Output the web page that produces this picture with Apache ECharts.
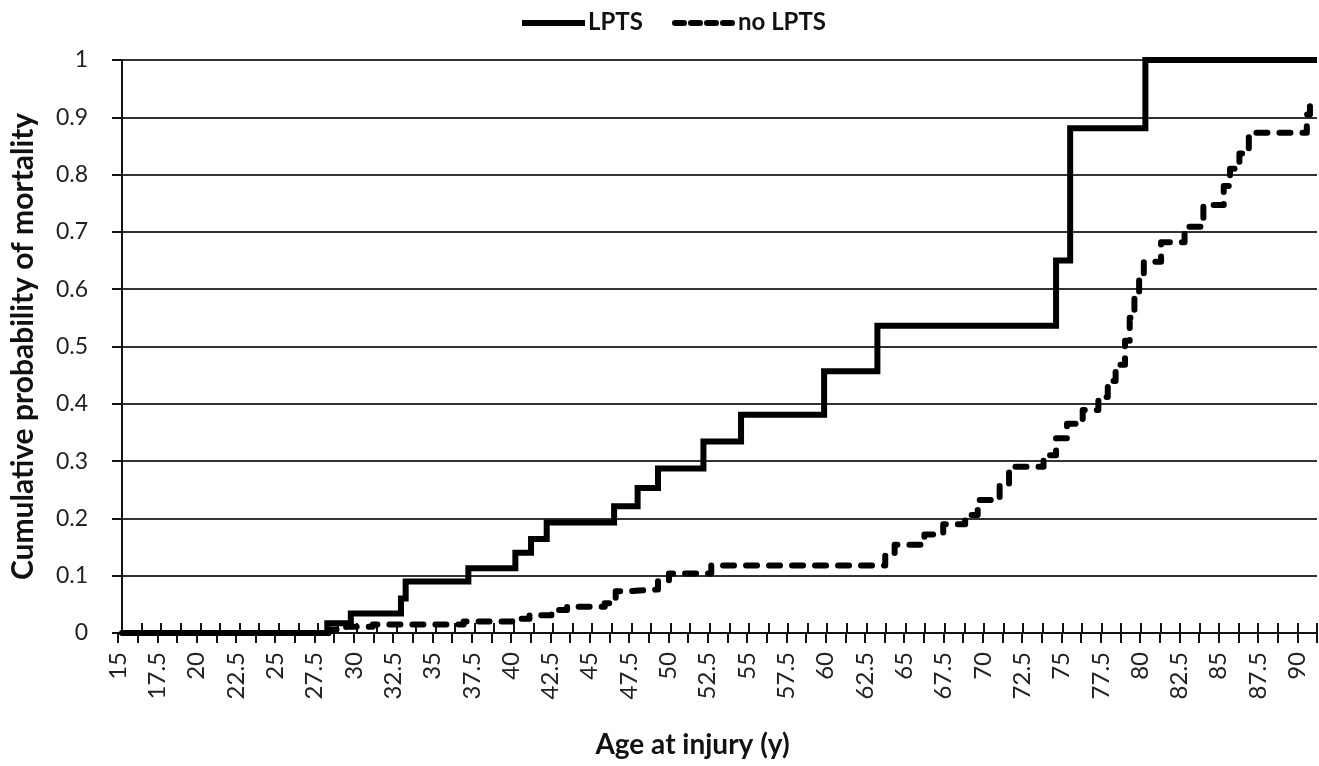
<!DOCTYPE html>
<html>
<head>
<meta charset="utf-8">
<script src="https://cdn.jsdelivr.net/npm/echarts@6/dist/echarts.min.js"></script>
<style>
html,body{margin:0;padding:0;background:#fff;}
#chart{width:1319px;height:766px;}
</style>
</head>
<body>
<div id="chart"></div>
<script>
// ---- data (age at injury in years, cumulative probability of mortality) ----
const seriesNames = ['LPTS', 'no LPTS'];
const lptsAges   = [15, 28.1, 29.6, 32.8, 33.1, 37.1, 40.1, 41.1, 42.1, 46.4, 47.9, 49.2, 52.1, 54.5, 59.8, 63.2, 74.6, 75.5, 80.3, 91.25];
const lptsValues = [0, 0.017, 0.034, 0.06, 0.09, 0.113, 0.14, 0.164, 0.193, 0.221, 0.253, 0.287, 0.334, 0.381, 0.457, 0.536, 0.65, 0.881, 1.0, 1.0];
const noLptsAges   = [15, 28.2, 29.3, 31.0, 36.8, 39.9, 41.0, 42.4, 43.4, 45.8, 46.5, 47.4, 49.2, 49.9, 52.6, 63.7, 64.3, 66.2, 67.4, 68.8, 69.6, 71.0, 71.6, 73.8, 74.6, 75.3, 76.3, 77.3, 77.9, 78.4, 79.0, 79.3, 79.6, 79.9, 80.2, 81.3, 82.8, 84.0, 85.3, 85.7, 86.3, 86.9, 90.6, 90.8];
const noLptsValues = [0, 0.006, 0.011, 0.015, 0.02, 0.025, 0.031, 0.04, 0.046, 0.052, 0.073, 0.076, 0.092, 0.104, 0.118, 0.135, 0.154, 0.172, 0.19, 0.206, 0.232, 0.26, 0.29, 0.31, 0.34, 0.365, 0.389, 0.412, 0.44, 0.468, 0.51, 0.55, 0.59, 0.625, 0.648, 0.682, 0.709, 0.747, 0.78, 0.81, 0.837, 0.873, 0.905, 0.94];
const xMin = 15, xMax = 91.25, xTickStep = 1.25, xLabelStep = 2.5, xLastLabel = 90;
const yMin = 0, yMax = 1, yStep = 0.1;
const xAxisTitle = 'Age at injury (y)';
const yAxisTitle = 'Cumulative probability of mortality';

const zip = (a, b) => a.map((v, i) => [v, b[i]]);
const FONT = 'Lato, "Open Sans", "DejaVu Sans", sans-serif';
const gridBox = {left: 118, right: 2, top: 60, bottom: 133};
const SOLID_W = 6, DASH_W = 6;

const chart = echarts.init(document.getElementById('chart'), null, {renderer: 'canvas'});
chart.setOption({
  animation: false,
  backgroundColor: '#ffffff',
  textStyle: {fontFamily: FONT},
  legend: {show: false, data: seriesNames},
  graphic: [
    {type: 'line', shape: {x1: 522, y1: 23, x2: 585, y2: 23}, style: {stroke: '#000', lineWidth: SOLID_W}},
    {type: 'text', left: 588, top: 10, style: {text: seriesNames[0], font: 'bold 24px ' + FONT, fill: '#111'}},
    {type: 'line', shape: {x1: 675, y1: 23, x2: 733, y2: 23}, style: {stroke: '#000', lineWidth: DASH_W, lineDash: [9, 7], lineCap: 'round'}},
    {type: 'text', left: 738, top: 10, style: {text: seriesNames[1], font: 'bold 24px ' + FONT, fill: '#111'}}
  ],
  grid: [
    Object.assign({}, gridBox),
    Object.assign({}, gridBox)
  ],
  xAxis: [
    { // upward half of the tick marks
      type: 'value', gridIndex: 0, min: xMin, max: xMax, interval: xTickStep,
      axisLine: {show: true, onZero: false, lineStyle: {color: '#111', width: 2}},
      axisTick: {show: true, inside: true, length: 10, lineStyle: {color: '#111', width: 2}},
      axisLabel: {show: false},
      splitLine: {show: false}
    },
    { // downward ticks, labels and title
      type: 'value', gridIndex: 1, min: xMin, max: xMax, interval: xTickStep,
      axisLine: {show: false, onZero: false},
      axisTick: {show: true, inside: false, length: 10, lineStyle: {color: '#111', width: 2}},
      axisLabel: {
        show: true, rotate: 90, margin: 19, fontSize: 24, color: '#222', fontFamily: FONT,
        formatter: v => (Math.abs(v / xLabelStep - Math.round(v / xLabelStep)) < 1e-6 && v <= xLastLabel + 1e-6) ? String(v) : ''
      },
      splitLine: {show: false},
      name: xAxisTitle, nameLocation: 'middle', nameGap: 98,
      nameTextStyle: {fontSize: 28, fontWeight: 'bold', color: '#111', fontFamily: FONT, padding: [0, 50, 0, 0]}
    }
  ],
  yAxis: [
    {
      type: 'value', gridIndex: 0, min: yMin, max: yMax, interval: yStep,
      axisLine: {show: true, onZero: false, lineStyle: {color: '#111', width: 2}},
      axisTick: {show: true, inside: false, length: 10, lineStyle: {color: '#111', width: 2}},
      axisLabel: {show: true, margin: 34, fontSize: 23, color: '#222', fontFamily: FONT,
        formatter: v => String(Math.round(v * 10) / 10)},
      splitLine: {show: true, lineStyle: {color: '#333', width: 1.8}},
      name: yAxisTitle, nameLocation: 'middle', nameGap: 84, nameRotate: 90,
      nameTextStyle: {fontSize: 30, fontWeight: 'bold', color: '#111', fontFamily: FONT}
    },
    {
      type: 'value', gridIndex: 1, min: yMin, max: yMax, interval: yStep, show: false
    }
  ],
  series: [
    {
      name: seriesNames[0], type: 'line', xAxisIndex: 0, yAxisIndex: 0,
      step: 'end', symbol: 'none', z: 3,
      lineStyle: {color: '#000', width: SOLID_W, type: 'solid', cap: 'butt', join: 'miter'},
      itemStyle: {color: '#000'},
      data: zip(lptsAges, lptsValues)
    },
    {
      name: seriesNames[1], type: 'line', xAxisIndex: 0, yAxisIndex: 0,
      step: 'end', symbol: 'none', z: 3,
      lineStyle: {color: '#000', width: DASH_W, type: [11, 12], cap: 'round', join: 'round'},
      itemStyle: {color: '#000'},
      data: zip(noLptsAges, noLptsValues)
    }
  ]
});
</script>
</body>
</html>
